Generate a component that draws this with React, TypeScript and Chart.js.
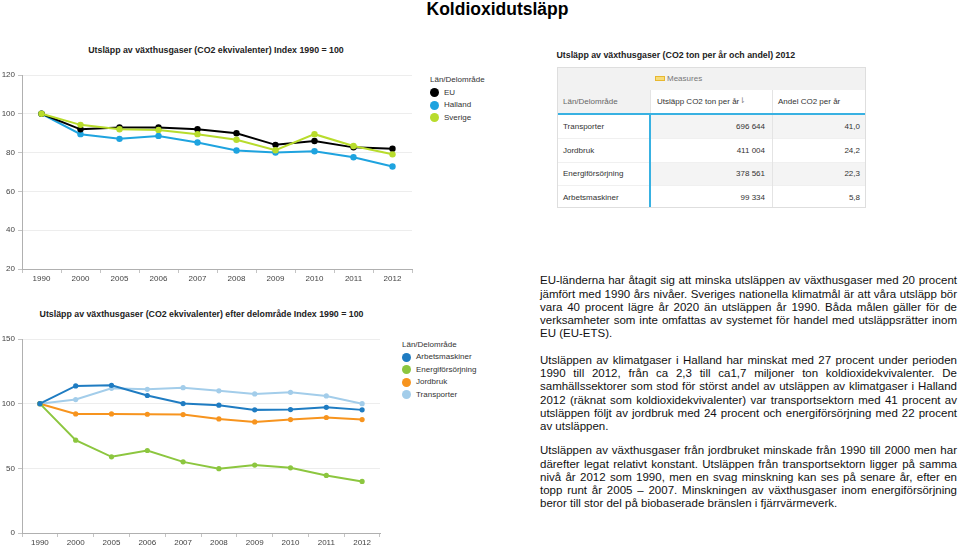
import React, { useEffect, useRef } from 'react';
import { Chart, registerables } from 'chart.js';
Chart.register(...registerables);

const FONT = '"Liberation Sans", Arial, Helvetica, sans-serif';
Chart.defaults.font.family = FONT;

// ---------- data ----------
const years = ['1990', '2000', '2005', '2006', '2007', '2008', '2009', '2010', '2011', '2012'];

const euValues = [100, 92, 93, 93, 92, 90, 84, 86, 82.7, 82];
const hallandValues = [100, 89.5, 87.1, 88.6, 85.2, 81.1, 80, 80.7, 77.6, 72.8];
const sverigeValues = [100, 94.3, 92, 91.7, 89.5, 86.6, 81.2, 89.5, 83.4, 79.1];

const arbetsValues = [100, 113.7, 114.2, 106.3, 100.1, 98.8, 95.2, 95.4, 97.2, 95.2];
const energiValues = [100, 71.8, 58.9, 63.8, 55, 49.7, 52.5, 50.4, 44.5, 39.9];
const jordbrukValues = [100, 92.1, 92.1, 91.8, 91.6, 88.2, 85.9, 87.7, 89.3, 87.7];
const transportValues = [100, 103.2, 111.9, 111.1, 112.4, 109.9, 107.5, 108.8, 106, 100];

const topLabels = ['EU', 'Halland', 'Sverige'];
const topColors = ['#000000', '#1ea3df', '#b8dc2c'];
const bottomLabels = ['Arbetsmaskiner', 'Energiförsörjning', 'Jordbruk', 'Transporter'];
const bottomColors = ['#1f7cc2', '#8cc63f', '#f7941e', '#a3cdea'];

const tableSectors = ['Transporter', 'Jordbruk', 'Energiförsörjning', 'Arbetsmaskiner'];
const tableTons = ['696 644', '411 004', '378 561', '99 334'];
const tableShares = ['41,0', '24,2', '22,3', '5,8'];

const para1 = [
  'EU-länderna har åtagit sig att minska utsläppen av växthusgaser med 20 procent',
  'jämfört med 1990 års nivåer. Sveriges nationella klimatmål är att våra utsläpp bör',
  'vara 40 procent lägre år 2020 än utsläppen år 1990. Båda målen gäller för de',
  'verksamheter som inte omfattas av systemet för handel med utsläppsrätter inom',
  'EU (EU-ETS).',
];
const para2 = [
  'Utsläppen av klimatgaser i Halland har minskat med 27 procent under perioden',
  '1990 till 2012, från ca 2,3 till ca1,7 miljoner ton koldioxidekvivalenter. De',
  'samhällssektorer som stod för störst andel av utsläppen av klimatgaser i Halland',
  '2012 (räknat som koldioxidekvivalenter) var transportsektorn med 41 procent av',
  'utsläppen följt av jordbruk med 24 procent och energiförsörjning med 22 procent',
  'av utsläppen.',
];
const para3 = [
  'Utsläppen av växthusgaser från jordbruket minskade från 1990 till 2000 men har',
  'därefter legat relativt konstant. Utsläppen från transportsektorn ligger på samma',
  'nivå år 2012 som 1990, men en svag minskning kan ses på senare år, efter en',
  'topp runt år 2005 – 2007. Minskningen av växthusgaser inom energiförsörjning',
  'beror till stor del på biobaserade bränslen i fjärrvärmeverk.',
];

// ---------- chart component ----------
type Series = { label: string; data: number[]; color: string; order: number };

function LineChart(props: {
  left: number; top: number; width: number; height: number;
  series: Series[]; min: number; max: number; step: number;
  padTop: number; padRight: number; xh: number; radius: number;
}) {
  const ref = useRef<HTMLCanvasElement>(null);
  useEffect(() => {
    const chart = new Chart(ref.current as HTMLCanvasElement, {
      type: 'line',
      data: {
        labels: years,
        datasets: props.series.map((s) => ({
          label: s.label,
          data: s.data,
          borderColor: s.color,
          backgroundColor: s.color,
          pointBackgroundColor: s.color,
          pointBorderColor: s.color,
          pointRadius: props.radius,
          pointBorderWidth: 0,
          borderWidth: 2,
          tension: 0,
          order: s.order,
        })),
      },
      options: {
        animation: false,
        responsive: false,
        maintainAspectRatio: false,
        layout: { padding: { top: props.padTop, right: props.padRight, left: 0, bottom: 0 } },
        plugins: { legend: { display: false }, tooltip: { enabled: false } },
        scales: {
          x: {
            type: 'category',
            offset: true,
            grid: { drawOnChartArea: false, drawTicks: true, tickLength: 4, tickColor: '#c4c4c4', offset: true },
            border: { color: '#b0b0b0' },
            ticks: { color: '#444', font: { size: 8, family: FONT }, padding: 1, maxRotation: 0, autoSkip: false },
            afterFit: (a: any) => { a.height = props.xh; },
          },
          y: {
            min: props.min,
            max: props.max,
            ticks: { stepSize: props.step, color: '#444', font: { size: 8, family: FONT }, padding: 3 },
            grid: { color: '#ededed', tickColor: '#c4c4c4', tickLength: 4 },
            border: { color: '#b0b0b0' },
            afterFit: (a: any) => { a.width = 22; },
          },
        },
      },
    });
    return () => chart.destroy();
  }, []);
  return (
    <canvas
      ref={ref}
      width={props.width}
      height={props.height}
      style={{ position: 'absolute', left: props.left, top: props.top, width: props.width, height: props.height }}
    />
  );
}

// ---------- helpers ----------
const txt = (x: number, cy: number, s: string, style: React.CSSProperties = {}, lh = 12): React.ReactNode => (
  <div
    key={s + x + cy}
    style={{ position: 'absolute', left: x, top: cy - lh / 2, lineHeight: lh + 'px', height: lh, whiteSpace: 'nowrap', ...style }}
  >
    {s}
  </div>
);

function Legend({ x, y, labels, colors }: { x: number; y: number; labels: string[]; colors: string[] }) {
  return (
    <>
      {txt(x, y, 'Län/Delområde', { fontSize: 8, color: '#333' })}
      {labels.map((l, i) => (
        <React.Fragment key={l}>
          <div
            style={{
              position: 'absolute', left: x, top: y + 12.6 * (i + 1) - 4.5, width: 9, height: 9,
              borderRadius: '50%', background: colors[i],
            }}
          />
          {txt(x + 14, y + 12.6 * (i + 1), l, { fontSize: 8, color: '#333' })}
        </React.Fragment>
      ))}
    </>
  );
}

function DataTable() {
  const L = 556.5, C1 = 650, C2 = 771.5, R = 866;
  const T = 66.5, H1 = 90, H2 = 114;
  const rowB = [114, 138.3, 161.7, 185, 208.3];
  const cells: React.ReactNode[] = [];
  const box = (x: number, y: number, w: number, h: number, bg: string, extra: React.CSSProperties = {}, k = '') => (
    <div key={'b' + k + x + '_' + y} style={{ position: 'absolute', left: x, top: y, width: w, height: h, background: bg, ...extra }} />
  );
  // header backgrounds
  cells.push(box(L, T, R - L, H1 - T, '#f2f2f2', {}, 'h1'));
  cells.push(box(L, H1, C1 - L, H2 - H1, '#f2f2f2', {}, 'h2'));
  cells.push(box(C1, H1, R - C1, H2 - H1, '#ffffff', {}, 'h3'));
  // body rows
  tableSectors.forEach((s, i) => {
    const y0 = rowB[i], y1 = rowB[i + 1];
    const bg = i % 2 === 0 ? '#f4f4f4' : '#ffffff';
    cells.push(box(L, y0, C1 - L, y1 - y0, '#ffffff', {}, 'r' + i));
    cells.push(box(C1, y0, R - C1, y1 - y0, bg, {}, 'q' + i));
    if (i > 0) cells.push(box(L, y0, R - L, 1, '#f0f0f0', {}, 'l' + i));
    const cy = (y0 + y1) / 2 + 1;
    cells.push(txt(L + 6.5, cy, s, { fontSize: 8, color: '#333' }));
    cells.push(
      <div key={'t' + i} style={{ position: 'absolute', left: C1, width: C2 - C1 - 6.5, top: cy - 6, lineHeight: '12px', textAlign: 'right', fontSize: 8, color: '#333' }}>{tableTons[i]}</div>,
    );
    cells.push(
      <div key={'p' + i} style={{ position: 'absolute', left: C2, width: R - C2 - 6, top: cy - 6, lineHeight: '12px', textAlign: 'right', fontSize: 8, color: '#333' }}>{tableShares[i]}</div>,
    );
  });
  // dividers
  cells.push(box(C2, H1, 1, rowB[4] - H1, '#e4e4e4', {}, 'd1'));
  cells.push(box(C1, H1, 1, H2 - H1, '#e4e4e4', {}, 'd2'));
  cells.push(box(L, H2 - 1, R - L, 2, '#38b1e2', {}, 'blue1'));
  cells.push(box(C1 - 1, H2, 2, rowB[4] - H2, '#38b1e2', {}, 'blue2'));
  // outer border
  cells.push(box(L, T, R - L, rowB[4] - T, 'transparent', { boxSizing: 'border-box', border: '1px solid #dedede' }, 'border'));
  // header texts
  cells.push(
    <div key="icon" style={{ position: 'absolute', left: 655, top: 75.5, width: 8, height: 3, border: '1px solid #e8b830', background: '#f7dc7a' }} />,
  );
  cells.push(txt(667, 78.5, 'Measures', { fontSize: 8, color: '#777' }));
  cells.push(txt(L + 6.5, 102, 'Län/Delområde', { fontSize: 8, color: '#666' }));
  cells.push(txt(657, 102, 'Utsläpp CO2 ton per år', { fontSize: 8, color: '#333' }));
  cells.push(txt(739, 101, '⇂', { fontSize: 8, color: '#888' }));
  cells.push(txt(778, 102, 'Andel CO2 per år', { fontSize: 8, color: '#333' }));
  return <>{cells}</>;
}

function Paragraph({ lines, start }: { lines: string[]; start: number }) {
  const LH = 13.25;
  return (
    <>
      {lines.map((ln, i) => (
        <div
          key={ln}
          style={{
            position: 'absolute', left: 540, width: 417, top: start + i * LH - LH / 2,
            lineHeight: LH + 'px', height: LH, fontSize: 11.5, color: '#111',
            textAlign: 'justify', textAlignLast: i === lines.length - 1 ? 'left' : 'justify',
          }}
        >
          {ln}
        </div>
      ))}
    </>
  );
}

export default function App() {
  const topSeries: Series[] = [
    { label: topLabels[0], data: euValues, color: topColors[0], order: 1 },
    { label: topLabels[1], data: hallandValues, color: topColors[1], order: 2 },
    { label: topLabels[2], data: sverigeValues, color: topColors[2], order: 0 },
  ];
  const bottomSeries: Series[] = [
    { label: bottomLabels[0], data: arbetsValues, color: bottomColors[0], order: 0 },
    { label: bottomLabels[1], data: energiValues, color: bottomColors[1], order: 1 },
    { label: bottomLabels[2], data: jordbrukValues, color: bottomColors[2], order: 2 },
    { label: bottomLabels[3], data: transportValues, color: bottomColors[3], order: 3 },
  ];
  return (
    <div
      style={{
        position: 'absolute', left: 0, top: 0, width: 960, height: 545, overflow: 'hidden',
        background: '#fff', fontFamily: FONT,
      }}
    >
      <div style={{ position: 'absolute', left: 0, width: 995, top: 0, lineHeight: '19px', textAlign: 'center', fontSize: 17.5, fontWeight: 'bold', color: '#000' }}>
        Koldioxidutsläpp
      </div>

      <div style={{ position: 'absolute', left: 0, width: 432, top: 44, lineHeight: '12px', textAlign: 'center', fontSize: 8.8, fontWeight: 'bold', color: '#222' }}>
        Utsläpp av växthusgaser (CO2 ekvivalenter) Index 1990 = 100
      </div>
      <LineChart left={0} top={65} width={416} height={222} series={topSeries} min={20} max={120} step={20} padTop={10} padRight={4} xh={18} radius={3.2} />
      <Legend x={430} y={80} labels={topLabels} colors={topColors} />

      <div style={{ position: 'absolute', left: 0, width: 403, top: 308, lineHeight: '12px', textAlign: 'center', fontSize: 8.8, fontWeight: 'bold', color: '#222' }}>
        Utsläpp av växthusgaser (CO2 ekvivalenter) efter delområde Index 1990 = 100
      </div>
      <LineChart left={0} top={330} width={384} height={219} series={bottomSeries} min={0} max={150} step={50} padTop={9} padRight={2} xh={16} radius={2.6} />
      <Legend x={402} y={344.5} labels={bottomLabels} colors={bottomColors} />

      {txt(556.5, 55, 'Utsläpp av växthusgaser (CO2 ton per år och andel) 2012', { fontSize: 8.8, fontWeight: 'bold', color: '#222' })}
      <DataTable />

      <Paragraph lines={para1} start={281} />
      <Paragraph lines={para2} start={360.5} />
      <Paragraph lines={para3} start={451} />
    </div>
  );
}
